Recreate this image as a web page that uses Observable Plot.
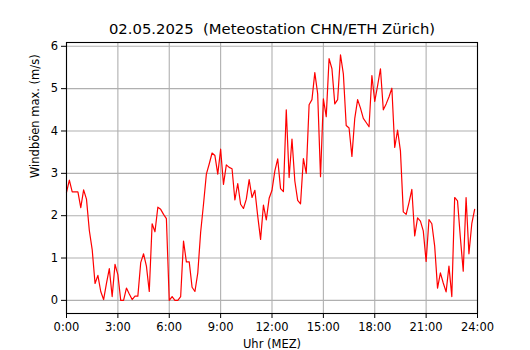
<!DOCTYPE html>
<html>
<head>
<meta charset="utf-8">
<script src="https://cdn.jsdelivr.net/npm/d3@7"></script>
<script src="https://cdn.jsdelivr.net/npm/@observablehq/plot@0.6"></script>
<style>
  html, body { margin: 0; padding: 0; background: white; }
</style>
</head>
<body>
<div id="chart"></div>
<script>
const title = "02.05.2025  (Meteostation CHN/ETH Zürich)";
const xLabel = "Uhr (MEZ)";
const yLabel = "Windböen max. (m/s)";
const startHour = 0;
const stepMinutes = 10;
const gust = [
  2.55, 2.84, 2.56, 2.56, 2.56, 2.19, 2.61, 2.39, 1.65, 1.2,
  0.40, 0.59, 0.21, 0.02, 0.40, 0.75, 0.09, 0.85, 0.61, 0.0,
  0.0, 0.29, 0.15, 0.02, 0.1, 0.1, 0.89, 1.1, 0.81, 0.21,
  1.81, 1.62, 2.2, 2.15, 2.03, 1.93,
  0.0, 0.09, 0.0, 0.0, 0.09, 1.4, 0.91, 0.91, 0.31, 0.21,
  0.65, 1.61, 2.27, 2.98, 3.22, 3.48, 3.42, 2.98, 3.57, 2.74,
  3.2, 3.14, 3.11, 2.37, 2.76, 2.27, 2.17, 2.39, 2.85, 2.43,
  2.6, 1.99, 1.44, 2.25, 1.9, 2.41,
  2.6, 3.06, 3.34, 2.64, 2.57, 4.5, 2.9, 3.81, 2.82, 2.36,
  2.28, 3.35, 3.0, 4.62, 4.74, 5.38, 4.88, 2.92, 4.76, 4.34,
  5.71, 5.47, 4.64, 4.74, 5.8, 5.35, 4.13, 4.07, 3.4, 4.3,
  4.74, 4.54, 4.3, 4.2, 4.1, 5.31,
  4.7, 5.07, 5.47, 4.5, 4.64, 4.81, 5.01, 3.61, 4.02, 3.53,
  2.09, 2.03, 2.31, 2.62, 1.52, 1.95, 1.87, 1.64, 0.92, 1.91,
  1.81, 1.28, 0.29, 0.65, 0.41, 0.2, 0.81, 0.09, 2.43, 2.35,
  1.48, 0.69, 2.43, 1.1, 1.81, 2.15
];
const xTicks = [0, 3, 6, 9, 12, 15, 18, 21, 24];
const xTickLabels = ["0:00", "3:00", "6:00", "9:00", "12:00", "15:00", "18:00", "21:00", "24:00"];
const yTicks = [0, 1, 2, 3, 4, 5, 6];
const yTickLabels = ["0", "1", "2", "3", "4", "5", "6"];

const data = gust.map((v, i) => ({hour: startHour + i * stepMinutes / 60, v}));
const gridColor = "#b0b0b0";

const chart = Plot.plot({
  width: 530,
  height: 350,
  marginLeft: 66,
  marginRight: 53,
  marginTop: 42,
  marginBottom: 37,
  style: {fontFamily: "DejaVu Sans", fontSize: "11.5px", color: "black", background: "white"},
  x: {domain: [0, 24], label: null},
  y: {domain: [-0.31, 6.09], label: null},
  marks: [
    Plot.gridX({ticks: xTicks, stroke: gridColor, strokeOpacity: 1, strokeWidth: 1.1}),
    Plot.gridY({ticks: yTicks, stroke: gridColor, strokeOpacity: 1, strokeWidth: 1.1}),
    Plot.lineY(data, {x: "hour", y: "v", stroke: "red", strokeWidth: 1.2}),
    Plot.frame({stroke: "black", strokeWidth: 1.1}),
    Plot.axisX({ticks: xTicks, tickFormat: d => xTickLabels[xTicks.indexOf(d)], tickSize: 5, tickPadding: 4, label: null, fontSize: 11.5}),
    Plot.axisY({ticks: yTicks, tickFormat: d => yTickLabels[yTicks.indexOf(d)], tickSize: 5, tickPadding: 3.5, label: null, fontSize: 11.5}),
    Plot.text([title], {frameAnchor: "top", dy: -13.5, fontSize: 14.8, lineAnchor: "middle", fill: "black"}),
    Plot.text([xLabel], {frameAnchor: "bottom", dy: 31, fontSize: 11.5, lineAnchor: "middle", fill: "black"}),
    Plot.text([yLabel], {frameAnchor: "left", dx: -31, rotate: -90, fontSize: 11.5, lineAnchor: "middle", fill: "black"})
  ]
});
document.getElementById("chart").appendChild(chart);
</script>
</body>
</html>
